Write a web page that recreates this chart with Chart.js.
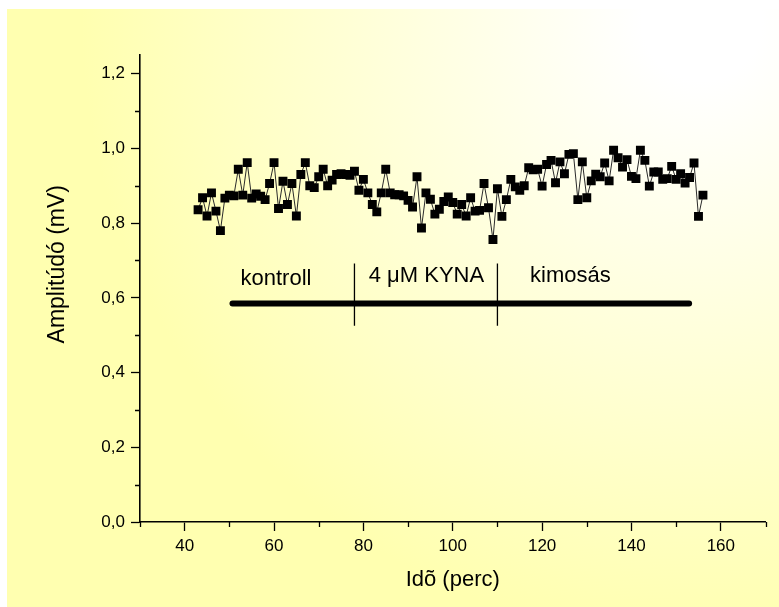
<!DOCTYPE html>
<html>
<head>
<meta charset="utf-8">
<script src="https://cdn.jsdelivr.net/npm/chart.js@4"></script>
<style>
  html, body { margin: 0; padding: 0; background: #fff; }
  #wrap { position: relative; width: 779px; height: 607px; }
  #bg {
    position: absolute; left: 7px; top: 9px; right: 0; bottom: 0;
    background: radial-gradient(circle at 90% 2%, #ffffff 0px, #ffffff 60px, #ffffb0 620px);
  }
  #chart { position: absolute; left: 0; top: 0; }
</style>
</head>
<body>
<div id="wrap">
  <div id="bg"></div>
  <canvas id="chart" width="779" height="607"></canvas>
</div>
<script>
// ido (perc)
const minutes = [
  43, 44, 45, 46, 47, 48, 49, 50, 51, 52, 53, 54, 55, 56, 57, 58, 59, 60, 61, 62,
  63, 64, 65, 66, 67, 68, 69, 70, 71, 72, 73, 74, 75, 76, 77, 78, 79, 80, 81, 82,
  83, 84, 85, 86, 87, 88, 89, 90, 91, 92, 93, 94, 95, 96, 97, 98, 99, 100, 101, 102,
  103, 104, 105, 106, 107, 108, 109, 110, 111, 112, 113, 114, 115, 116, 117, 118, 119, 120, 121, 122,
  123, 124, 125, 126, 127, 128, 129, 130, 131, 132, 133, 134, 135, 136, 137, 138, 139, 140, 141, 142,
  143, 144, 145, 146, 147, 148, 149, 150, 151, 152, 153, 154, 155, 156
];
// amplitudo (mV)
const amplitude = [
  0.836, 0.868, 0.819, 0.881, 0.832, 0.780, 0.867, 0.875, 0.873, 0.944, 0.875, 0.962, 0.867, 0.878, 0.872, 0.863, 0.906, 0.962, 0.839, 0.912,
  0.850, 0.906, 0.819, 0.930, 0.962, 0.900, 0.895, 0.924, 0.944, 0.900, 0.915, 0.930, 0.932, 0.930, 0.928, 0.939, 0.888, 0.917, 0.881, 0.850,
  0.830, 0.881, 0.944, 0.881, 0.876, 0.876, 0.873, 0.861, 0.843, 0.924, 0.787, 0.881, 0.864, 0.824, 0.837, 0.858, 0.870, 0.855, 0.824, 0.850,
  0.819, 0.868, 0.832, 0.834, 0.906, 0.841, 0.756, 0.892, 0.818, 0.863, 0.917, 0.897, 0.888, 0.900, 0.948, 0.943, 0.944, 0.899, 0.957, 0.968,
  0.908, 0.964, 0.932, 0.984, 0.986, 0.863, 0.964, 0.868, 0.913, 0.931, 0.924, 0.961, 0.913, 0.995, 0.975, 0.950, 0.970, 0.925, 0.919, 0.995,
  0.968, 0.899, 0.937, 0.937, 0.917, 0.919, 0.952, 0.917, 0.932, 0.907, 0.922, 0.961, 0.818, 0.875
];

// tengelyek
const xMajorTicks = [40, 60, 80, 100, 120, 140, 160];
const xMinorTicks = [30, 50, 70, 90, 110, 130, 150, 170];
const yMajorTicks = [0, 0.2, 0.4, 0.6, 0.8, 1.0, 1.2];
const yMinorTicks = [0.1, 0.3, 0.5, 0.7, 0.9, 1.1];
const yTitle = 'Amplitúdó (mV)';
const xTitle = 'Idõ (perc)';

// kezelesi szakaszok
const phaseNames = ['kontroll', '4 \u03bcM KYNA', 'kimos\u00e1s'];
const phaseTextX = [52.5, 81.2, 117.3];
const phaseTextY = [0.635, 0.643, 0.643];
const barX = [50.7, 152.9];
const barLevel = 0.585;
const dividerX = [78, 110];
const dividerY = [0.525, 0.692];

const FONT = '"Liberation Sans", Arial, sans-serif';

const points = minutes.map((m, i) => ({ x: m, y: amplitude[i] }));
const bar = barX.map(x => ({ x: x, y: barLevel }));
const dividers = dividerX.map(x => ({
  type: 'line',
  data: dividerY.map(y => ({ x: x, y: y })),
  borderColor: '#000',
  borderWidth: 1.3,
  pointRadius: 0,
  showLine: true
}));

// rovid mellek-osztasok, y cim, szakasz feliratok
const extras = {
  id: 'extras',
  afterDraw(chart) {
    const ctx = chart.ctx;
    const xs = chart.scales.x, ys = chart.scales.y;
    ctx.save();
    ctx.strokeStyle = '#000';
    ctx.lineWidth = 1.3;
    ctx.beginPath();
    xMinorTicks.forEach(v => {
      const px = Math.round(xs.getPixelForValue(v)) + 0.5;
      ctx.moveTo(px, xs.top);
      ctx.lineTo(px, xs.top + 5);
    });
    yMinorTicks.forEach(v => {
      const py = Math.round(ys.getPixelForValue(v)) + 0.5;
      ctx.moveTo(ys.right, py);
      ctx.lineTo(ys.right - 5, py);
    });
    ctx.stroke();

    ctx.fillStyle = '#000';
    ctx.font = '22px ' + FONT;
    ctx.textAlign = 'left';
    ctx.textBaseline = 'alphabetic';
    phaseNames.forEach((t, i) => {
      ctx.fillText(t, xs.getPixelForValue(phaseTextX[i]), ys.getPixelForValue(phaseTextY[i]));
    });

    // y tengely cim (kicsit a tengely kozepe folott, mint az eredetin)
    ctx.font = '23px ' + FONT;
    ctx.textAlign = 'center';
    ctx.textBaseline = 'middle';
    ctx.translate(58, ys.getPixelForValue(0.69));
    ctx.rotate(-Math.PI / 2);
    ctx.fillText(yTitle, 0, 0);
    ctx.restore();
  }
};

new Chart(document.getElementById('chart'), {
  type: 'scatter',
  data: {
    datasets: [
      {
        label: 'Amplitúdó',
        data: points,
        showLine: true,
        borderColor: '#2a2a2a',
        borderWidth: 1,
        tension: 0,
        pointStyle: 'rect',
        pointRadius: 6.3,
        pointHoverRadius: 6.3,
        pointBackgroundColor: '#000',
        pointBorderWidth: 0
      },
      {
        type: 'line',
        data: bar,
        borderColor: '#000',
        borderWidth: 6,
        borderCapStyle: 'round',
        pointRadius: 0,
        showLine: true
      },
      ...dividers
    ]
  },
  plugins: [extras],
  options: {
    responsive: false,
    animation: false,
    devicePixelRatio: 1,
    layout: { padding: { top: 55, right: 13.5, left: 0, bottom: 0 } },
    plugins: { legend: { display: false }, tooltip: { enabled: false } },
    scales: {
      x: {
        type: 'linear',
        min: 30,
        max: 170,
        afterFit: s => { s.height = 85; },
        afterBuildTicks: s => { s.ticks = xMajorTicks.map(v => ({ value: v })); },
        border: { display: true, color: '#000', width: 1.6 },
        grid: { display: true, drawOnChartArea: false, tickLength: 9, tickWidth: 1.3, tickColor: '#000' },
        ticks: { color: '#000', font: { family: FONT, size: 17 }, padding: 5, maxRotation: 0,
                 callback: v => String(v) },
        title: { display: true, text: xTitle, color: '#000', font: { family: FONT, size: 22 },
                 padding: { top: 0, bottom: 14 } }
      },
      y: {
        type: 'linear',
        min: 0,
        max: 1.25,
        afterFit: s => { s.width = 140; },
        afterBuildTicks: s => { s.ticks = yMajorTicks.map(v => ({ value: v })); },
        border: { display: true, color: '#000', width: 1.6 },
        grid: { display: true, drawOnChartArea: false, tickLength: 9, tickWidth: 1.3, tickColor: '#000' },
        ticks: { color: '#000', font: { family: FONT, size: 17 }, padding: 6,
                 callback: v => v.toFixed(1).replace('.', ',') },
        title: { display: false }
      }
    }
  }
});
</script>
</body>
</html>
